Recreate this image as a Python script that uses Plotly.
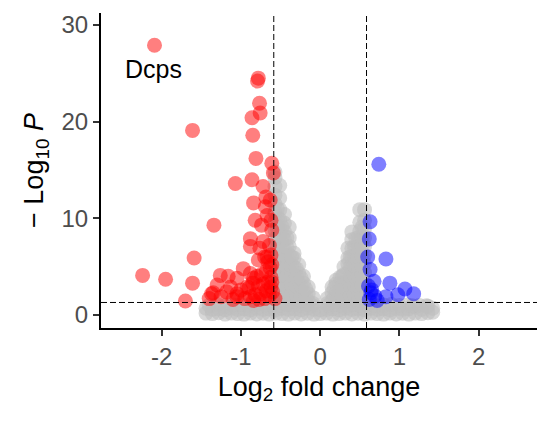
import plotly.graph_objects as go

# ---- data ----
red_x = [-2.09, -0.78, -0.79, -0.765, -0.757, -0.86, -1.61, -0.85, -0.81, -0.61, -0.59,
         -1.07, -0.86, -0.72, -0.685, -0.84, -0.69, -0.63, -1.34, -0.82, -0.74, -0.61,
         -0.88, -0.88, -0.76, -1.59, -2.24, -1.95, -1.61, -1.70, -1.26, -1.16, -0.97,
         -1.05, -1.30, -1.37, -1.05, -1.18, -0.92, -0.84, -0.78, -0.67, -0.61, -0.57,
         -1.35, -1.05, -0.62, -0.66, -0.70, -0.63, -0.68, -0.74, -0.80, -0.62, -0.66,
         -0.72, -0.78, -0.85, -0.90, -0.62, -0.68, -0.75, -0.82, -0.88, -0.95, -0.64,
         -0.70, -0.77, -0.84, -0.60, -0.61, -1.00, -1.10, -1.25, -1.40, -1.13, -0.88,
         -0.72, -0.64, -0.62, -0.67]
red_y = [27.9, 24.5, 24.2, 21.9, 20.9, 20.4, 19.1, 18.6, 16.2, 15.7, 14.7,
         13.6, 14.0, 13.3, 12.2, 11.6, 11.2, 11.9, 9.3, 9.8, 9.3, 8.8,
         7.9, 7.1, 6.9, 5.9, 4.1, 3.7, 3.3, 1.45, 4.1, 4.0, 4.8,
         3.8, 3.1, 2.2, 2.2, 2.4, 2.9, 3.8, 5.7, 6.0, 5.2, 1.7,
         2.3, 1.9, 6.2, 5.5, 6.0, 4.9, 4.5, 4.2, 4.0, 3.9, 3.4,
         3.2, 3.0, 3.3, 2.8, 2.9, 2.5, 2.2, 2.1, 1.9, 1.7, 2.0,
         1.7, 1.6, 1.5, 2.4, 3.4, 2.6, 1.6, 1.9, 1.7, 2.9, 4.3,
         7.6, 7.2, 9.8, 10.3]

blue_x = [0.74, 0.63, 0.62, 0.60, 0.83, 0.63, 0.68, 0.88, 1.07, 1.18, 0.98, 0.83,
          0.65, 0.64, 0.69, 0.61, 0.62, 0.72]
blue_y = [15.6, 9.65, 7.86, 6.0, 5.8, 4.7, 3.5, 3.3, 2.7, 2.2, 2.1, 1.9,
          2.6, 2.3, 1.96, 3.0, 1.6, 1.5]

# non-significant genes: lower band
band_x = [-1.44, -1.36, -1.28, -1.20, -1.12, -1.04, -0.96, -0.88, -0.80, -0.72, -0.64,
          -0.56, -0.48, -0.40, -0.32, -0.24, -0.16, -0.08, 0.00, 0.08, 0.16, 0.24,
          0.32, 0.40, 0.48, 0.56, 0.64, 0.72, 0.80, 0.88, 0.96, 1.04, 1.12, 1.20,
          1.28, 1.36, 1.42]
band_low = [0.2, 0.15, 0.25, 0.1, 0.2, 0.15, 0.1, 0.2, 0.12, 0.18, 0.1,
            0.2, 0.15, 0.1, 0.2, 0.12, 0.18, 0.1, 0.15, 0.2, 0.1, 0.15,
            0.2, 0.12, 0.18, 0.1, 0.2, 0.15, 0.1, 0.2, 0.12, 0.18, 0.1, 0.2,
            0.15, 0.25, 0.3]
band_mid = [0.7, 0.6, 0.65, 0.55, 0.7, 0.6, 0.65, 0.55, 0.7, 0.6, 0.65,
            0.55, 0.7, 0.6, 0.65, 0.55, 0.7, 0.6, 0.55, 0.6, 0.65, 0.55,
            0.7, 0.6, 0.65, 0.55, 0.7, 0.6, 0.65, 0.55, 0.7, 0.6, 0.65, 0.86,
            0.6, 0.9, 0.7]
band_top_x = [-1.40, -1.30, -1.20, -1.10, -1.00, -0.90, -0.80, -0.70, -0.60, -0.50,
              -0.42, -0.34, -0.26, -0.18, -0.10, 0.10, 0.18, 0.26, 0.34, 0.42, 0.50,
              0.60, 0.70, 0.80, 0.90, 1.00, 1.10, 1.16, 1.25, 1.34]
band_top_y = [1.0, 1.1, 0.95, 1.05, 1.1, 1.0, 1.1, 1.05, 1.1, 1.0,
              1.1, 1.05, 1.0, 1.1, 1.0, 1.0, 1.1, 1.05, 1.0, 1.1, 1.05,
              1.1, 1.0, 1.05, 1.1, 1.0, 1.05, 0.95, 1.0, 0.95]

# non-significant genes: the two ridges beside x = 0
ridge_x = [-0.57] * 16 + [-0.51] * 13 + [-0.45] * 11 + [-0.39] * 9 + [-0.33] * 7 + \
          [-0.27] * 5 + [-0.21] * 4 + [-0.15] * 3 + [-0.09] * 2 + \
          [0.09] * 2 + [0.15] * 3 + [0.20] * 4 + [0.25] * 4 + [0.30] * 5 + \
          [0.35] * 7 + [0.40] * 9 + [0.45] * 8 + [0.50] * 11 + [0.56] * 11
ridge_y = [1.6, 2.5, 3.4, 4.3, 5.2, 6.1, 7.0, 7.9, 8.8, 9.7, 10.6, 11.5, 12.4, 13.3, 14.2, 14.8,
           1.8, 2.7, 3.6, 4.5, 5.4, 6.3, 7.2, 8.1, 9.0, 9.9, 10.9, 12.1, 13.4,
           1.5, 2.4, 3.3, 4.2, 5.1, 6.0, 6.9, 7.8, 8.6, 9.5, 10.4,
           1.7, 2.6, 3.5, 4.4, 5.3, 6.2, 7.1, 8.0, 9.1,
           1.4, 2.3, 3.2, 4.1, 5.0, 5.9, 6.4,
           1.6, 2.5, 3.4, 4.3, 5.2,
           1.5, 2.4, 3.3, 4.0,
           1.4, 2.2, 2.9,
           1.2, 1.8,
           1.2, 1.7,
           1.5, 2.3, 2.9,
           1.4, 2.3, 3.2, 3.6,
           1.6, 2.5, 3.3, 3.9,
           1.5, 2.4, 3.3, 4.2, 5.0,
           1.7, 2.6, 3.5, 4.4, 5.3, 5.9, 6.9,
           1.5, 2.4, 3.3, 4.2, 5.1, 6.0, 6.9, 7.8, 8.6,
           1.6, 2.5, 3.4, 4.3, 5.2, 6.1, 7.0, 7.9,
           1.5, 2.4, 3.3, 4.2, 5.1, 6.0, 6.9, 7.8, 8.7, 9.6, 10.9,
           1.7, 2.6, 3.5, 4.4, 5.3, 6.2, 7.1, 8.0, 8.9, 9.8, 10.9]
# extra genes packed inside the ridges
ridge2_x = [-0.54] * 10 + [-0.48] * 8 + [-0.42] * 7 + [-0.36] * 5 + [-0.30] * 4 + \
           [-0.24] * 3 + [-0.18] * 2 + [0.18] * 2 + [0.28] * 3 + [0.38] * 5 + \
           [0.43] * 6 + [0.48] * 7 + [0.53] * 8
ridge2_y = [2.0, 3.0, 4.0, 5.0, 6.0, 7.0, 8.0, 9.0, 10.0, 11.0,
            2.1, 3.1, 4.1, 5.1, 6.1, 7.1, 8.1, 9.1,
            2.0, 3.0, 4.0, 5.0, 6.0, 7.0, 8.0,
            2.1, 3.1, 4.1, 5.1, 6.0,
            2.0, 3.0, 4.0, 4.8,
            2.0, 3.0, 3.8,
            1.9, 2.7,
            1.9, 2.8,
            2.0, 3.0, 4.0,
            2.0, 3.0, 4.0, 5.0, 6.0,
            2.1, 3.1, 4.1, 5.1, 6.1, 7.1,
            2.0, 3.0, 4.0, 5.0, 6.0, 7.0, 8.0,
            2.1, 3.1, 4.1, 5.1, 6.1, 7.1, 8.1, 9.1]

grey_x = band_x + band_x + band_top_x + ridge_x + ridge2_x
grey_y = band_low + band_mid + band_top_y + ridge_y + ridge2_y

fc_cut = 0.585
p_cut = 1.301
label_text = "Dcps"
label_x, label_y = -2.10, 25.5

FONT = "Arial, Liberation Sans, sans-serif"

fig = go.Figure()
fig.add_trace(go.Scatter(x=grey_x, y=grey_y, mode="markers",
                         marker=dict(size=15, color="rgba(190,190,190,0.6)", line=dict(width=0)),
                         hoverinfo="skip", showlegend=False))
fig.add_trace(go.Scatter(x=red_x, y=red_y, mode="markers",
                         marker=dict(size=15, color="rgba(255,0,0,0.5)", line=dict(width=0)),
                         showlegend=False))
fig.add_trace(go.Scatter(x=blue_x, y=blue_y, mode="markers",
                         marker=dict(size=15, color="rgba(0,0,255,0.5)", line=dict(width=0)),
                         showlegend=False))

for xv in (-fc_cut, fc_cut):
    fig.add_shape(type="line", xref="x", yref="paper", x0=xv, x1=xv, y0=0, y1=1,
                  line=dict(color="black", width=1, dash="6px,3px"))
fig.add_shape(type="line", xref="paper", yref="y", x0=0, x1=1, y0=p_cut, y1=p_cut,
              line=dict(color="black", width=1, dash="6px,3px"))

fig.add_annotation(x=label_x, y=label_y, text=label_text, showarrow=False,
                   font=dict(family=FONT, size=25, color="black"))

fig.update_layout(
    width=551, height=422,
    margin=dict(l=101, r=14, t=13, b=94),
    paper_bgcolor="white", plot_bgcolor="white",
    font=dict(family=FONT),
)
fig.update_xaxes(range=[-2.765, 2.736], tickvals=[-2, -1, 0, 1, 2],
                 ticktext=["-2", "-1", "0", "1", "2"],
                 showgrid=False, zeroline=False, showline=True, linecolor="black", linewidth=2,
                 ticks="outside", ticklen=6, tickwidth=2, tickcolor="#333333",
                 tickfont=dict(family=FONT, size=24, color="#4d4d4d"),
                 title=dict(text="Log<sub>2</sub> fold change", standoff=8,
                            font=dict(family=FONT, size=27, color="black")))
fig.update_yaxes(range=[-1.34, 31.24], tickvals=[0, 10, 20, 30],
                 showgrid=False, zeroline=False, showline=True, linecolor="black", linewidth=2,
                 ticks="outside", ticklen=6, tickwidth=2, tickcolor="#333333",
                 tickfont=dict(family=FONT, size=24, color="#4d4d4d"),
                 title=dict(text="\u2212 Log<sub>10</sub> <i>P</i>", standoff=10,
                            font=dict(family=FONT, size=27, color="black")))

fig.write_html("out.html")
